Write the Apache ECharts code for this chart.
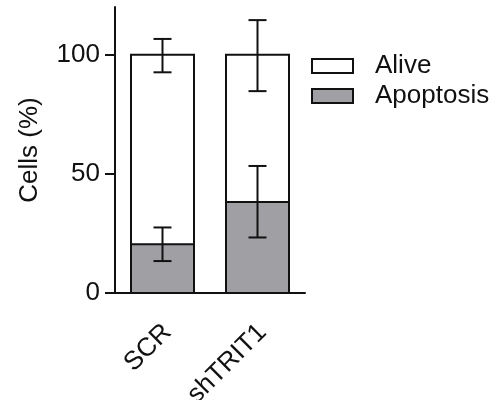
<!DOCTYPE html>
<html><head><meta charset="utf-8">
<script src="https://cdn.jsdelivr.net/npm/echarts@6/dist/echarts.min.js"></script>
<style>html,body{margin:0;padding:0;background:#fff}#c{width:496px;height:400px}</style>
</head><body><div id="c"></div>
<script>
const categories = ['SCR', 'shTRIT1'];
const apoptosis = [20.5, 38.2];
const alive = [79.5, 61.8];
const apoptosisErrLow = [13.4, 23.3];
const apoptosisErrHigh = [27.5, 53.3];
const aliveErrLow = [92.6, 84.7];
const aliveErrHigh = [106.6, 114.5];
const yTicks = [0, 50, 100];

const FONT = 'Liberation Sans';
const INK = '#111';
const BAR_W = 63;

function errData(lo, hi) { return categories.map((c, i) => [i, lo[i], hi[i]]); }
function renderErr(params, api) {
  const x = api.value(0);
  const lo = api.coord([x, api.value(1)]);
  const hi = api.coord([x, api.value(2)]);
  const hw = 9;
  const st = { stroke: INK, lineWidth: 2 };
  return { type: 'group', children: [
    { type: 'line', shape: { x1: lo[0], y1: lo[1], x2: hi[0], y2: hi[1] }, style: st },
    { type: 'line', shape: { x1: lo[0]-hw, y1: lo[1], x2: lo[0]+hw, y2: lo[1] }, style: st },
    { type: 'line', shape: { x1: hi[0]-hw, y1: hi[1], x2: hi[0]+hw, y2: hi[1] }, style: st }
  ]};
}
// outline of the stacked bar: box from 0 to total, plus divider at the apoptosis value
function renderOutline(params, api) {
  const x = api.value(0);
  const p0 = api.coord([x, 0]);
  const pm = api.coord([x, api.value(1)]);
  const pt = api.coord([x, api.value(2)]);
  const hw = BAR_W / 2;
  const st = { stroke: INK, lineWidth: 2, fill: null };
  return { type: 'group', children: [
    { type: 'rect', shape: { x: p0[0]-hw, y: pt[1], width: BAR_W, height: p0[1]-pt[1] }, style: st },
    { type: 'line', shape: { x1: pm[0]-hw, y1: pm[1], x2: pm[0]+hw, y2: pm[1] }, style: { stroke: INK, lineWidth: 2 } }
  ]};
}

const chart = echarts.init(document.getElementById('c'), null, { renderer: 'canvas' });
chart.setOption({
  animation: false,
  textStyle: { fontFamily: FONT },
  grid: { left: 115, right: 191, top: 7, bottom: 107, containLabel: false, outerBoundsMode: 'none' },
  legend: {
    orient: 'vertical', left: 311, top: 51, padding: 0, itemGap: 0,
    itemWidth: 41, itemHeight: 14,
    data: ['Alive', 'Apoptosis'],
    itemStyle: { borderColor: INK, borderWidth: 2 },
    textStyle: { fontFamily: FONT, fontSize: 26, color: INK, lineHeight: 30, padding: [0, 0, 0, 17] },
    icon: 'rect'
  },
  xAxis: {
    type: 'category', data: categories,
    axisLine: { lineStyle: { color: INK, width: 2 } },
    axisTick: { alignWithLabel: true, length: 11, lineStyle: { color: INK, width: 2 } },
    axisLabel: { rotate: 45, fontSize: 26, color: INK, fontFamily: FONT, margin: 22, align: 'right', verticalAlign: 'top', padding: [0, 6, 0, 0] }
  },
  yAxis: {
    type: 'value', min: 0, max: 120, interval: 50,
    name: 'Cells (%)', nameLocation: 'middle', nameGap: 72,
    nameTextStyle: { fontSize: 26, color: INK, fontFamily: FONT },
    splitLine: { show: false },
    axisLine: { show: true, lineStyle: { color: INK, width: 2 } },
    axisTick: { show: true, length: 10, lineStyle: { color: INK, width: 2 }, customValues: yTicks },
    axisLabel: { fontSize: 26, color: INK, fontFamily: FONT, margin: 15, customValues: yTicks }
  },
  series: [
    { name: 'Apoptosis', type: 'bar', stack: 's', data: apoptosis, barWidth: BAR_W,
      itemStyle: { color: '#a0a0a4', borderWidth: 0 } },
    { name: 'Alive', type: 'bar', stack: 's', data: alive, barWidth: BAR_W,
      itemStyle: { color: '#ffffff', borderWidth: 0 } },
    { type: 'custom', renderItem: renderOutline, z: 5,
      data: categories.map((c, i) => [i, apoptosis[i], apoptosis[i] + alive[i]]) },
    { type: 'custom', renderItem: renderErr, data: errData(apoptosisErrLow, apoptosisErrHigh), z: 10 },
    { type: 'custom', renderItem: renderErr, data: errData(aliveErrLow, aliveErrHigh), z: 10 }
  ]
});
</script></body></html>
